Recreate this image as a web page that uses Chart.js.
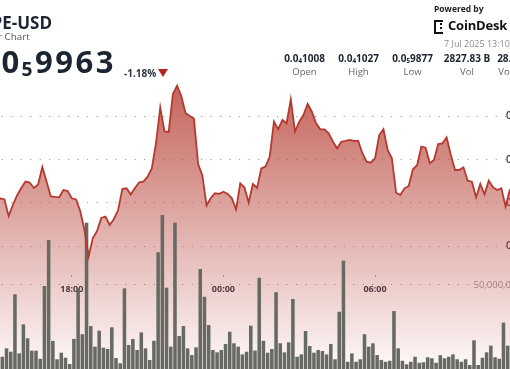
<!DOCTYPE html>
<html lang="en">
<head>
<meta charset="utf-8">
<title>PEPE-USD 24 Hour Chart</title>
<script src="https://cdn.jsdelivr.net/npm/chart.js@4.4.1/dist/chart.umd.min.js"></script>
<style>
  html, body { margin: 0; padding: 0; background: #fff; }
  body { position: relative; width: 510px; height: 369px; overflow: hidden; font-family: 'Open Sans', sans-serif; color: #1b2430; }
  #chart-wrap { position: absolute; left: -4px; top: 0; width: 518px; height: 369px; }
  .t { position: absolute; white-space: nowrap; line-height: 1; }
  .sub { font-size: 0.62em; vertical-align: -0.18em; }
  #pair { right: 458px; top: 14px; font-size: 17px; font-weight: 700; }
  #subtitle { right: 480.3px; top: 31.6px; font-size: 9.8px; color: #555; }
  #last { right: 394px; top: 46px; font-size: 31px; font-weight: 700; letter-spacing: 2.5px; }
  #change { left: 124px; top: 67.5px; font-size: 10px; font-weight: 700; color: #2d3340; }
  #arrow { position: absolute; left: 158px; top: 69px; width: 0; height: 0; border-left: 5px solid transparent; border-right: 5px solid transparent; border-top: 8px solid #b3261e; }
  #powered { left: 434px; top: 5px; font-size: 8.5px; font-weight: 700; color: #222; }
  #logo-mark { position: absolute; left: 434px; top: 20px; width: 7px; height: 10px; border: 2.5px solid #111; border-right: none; }
  #logo-mark i { position: absolute; left: 4px; width: 2px; height: 2px; background: #111; }
  #brand { left: 448px; top: 18.5px; font-size: 13px; font-weight: 700; color: #111; letter-spacing: -0.2px; }
  #stamp { left: 444px; top: 38.5px; font-size: 9px; color: #8a8a8a; }
  .sv { position: absolute; width: 60px; text-align: center; line-height: 1; top: 53.3px; font-size: 10px; font-weight: 700; color: #1b2430; white-space: nowrap; }
  .sl { position: absolute; width: 60px; text-align: center; line-height: 1; top: 66.6px; font-size: 9.5px; color: #666; white-space: nowrap; }
</style>
</head>
<body>
<div id="chart-wrap"><canvas id="chart"></canvas></div>

<div class="t" id="pair">PEPE-USD</div>
<div class="t" id="subtitle">24 Hour Chart</div>
<div class="t" id="last">0.0<span class="sub">5</span>9963</div>
<div class="t" id="change">-1.18%</div>
<div id="arrow"></div>

<div class="t" id="powered">Powered by</div>
<div id="logo-mark"><i style="top:1px"></i><i style="top:5px"></i></div>
<div class="t" id="brand">CoinDesk</div>
<div class="t" id="stamp">7 Jul 2025 13:10</div>

<div class="sv" style="left:274.5px">0.0<span class="sub">4</span>1008</div>
<div class="sl" style="left:274.5px">Open</div>
<div class="sv" style="left:328.5px">0.0<span class="sub">4</span>1027</div>
<div class="sl" style="left:328.5px">High</div>
<div class="sv" style="left:382.5px">0.0<span class="sub">5</span>9877</div>
<div class="sl" style="left:382.5px">Low</div>
<div class="sv" style="left:437px">2827.83 B</div>
<div class="sl" style="left:437px">Vol</div>
<div class="sv" style="left:486px">28.28 M</div>
<div class="sl" style="left:486px">Vol USD</div>

<script>
// volume per 10-minute slot, in millions of PEPE (slot 0 starts 15:00)
const volumeM = [
  23.2, 7.3, 12.3, 10.3, 44.5, 9.3, 26.6, 18.3, 10.9, 10.9,
  6.1, 49.4, 76.8, 16.7, 5.8, 9.7, 6.7, 3.0, 17.9, 48.0,
  20.7, 87.1, 25.6, 13.3, 22.8, 12.7, 11.9, 24.8, 6.5, 3.4,
  48.0, 14.3, 17.9, 11.3, 21.8, 12.3, 5.4, 16.8, 69.5, 91.7,
  48.4, 13.3, 87.1, 19.6, 25.6, 12.3, 8.3, 12.9, 59.5, 43.0,
  26.2, 11.3, 9.9, 11.3, 14.9, 22.2, 15.3, 13.3, 8.7, 10.3,
  25.8, 11.0, 54.3, 16.8, 9.7, 11.9, 45.7, 15.3, 9.9, 15.9,
  41.7, 7.3, 8.7, 22.6, 13.7, 9.7, 11.3, 10.7, 8.7, 14.9,
  5.8, 34.1, 64.5, 4.3, 9.3, 4.3, 5.8, 20.7, 13.3, 15.3,
  8.3, 5.4, 4.3, 4.9, 34.5, 12.3, 4.9, 2.8, 4.3, 7.3,
  3.7, 4.0, 7.0, 6.4, 3.7, 8.2, 6.4, 7.3, 8.7, 5.8,
  4.3, 5.8, 2.4, 17.1, 2.4, 6.7, 9.9, 13.9, 7.0, 6.1,
  27.6, 13.9, 10.0
];

// price at each slot boundary, in units of 0.00001 USD
const priceE5 = [
  1.00115, 1.00104, 1.00081, 0.99700, 0.99954, 1.00173, 1.00346, 1.00496, 1.00473, 1.00346,
  1.00427, 1.00831, 1.00496, 1.00150, 1.00139, 1.00132, 1.00300, 1.00277, 1.00109, 1.00081,
  0.99815, 0.99377, 0.98770, 0.99192, 0.99353, 0.99654, 0.99688, 0.99492, 0.99631, 0.99838,
  1.00323, 1.00339, 1.00196, 1.00346, 1.00478, 1.00492, 1.00607, 1.00797, 1.01385, 1.02205,
  1.01651, 1.01639, 1.02517, 1.02710, 1.02471, 1.02078, 1.02009, 1.01951, 1.00901, 1.00635,
  0.99942, 1.00115, 1.00224, 1.00212, 1.00261, 1.00208, 1.00109, 0.99850, 1.00455, 1.00358,
  1.00012, 1.00439, 1.00346, 1.00797, 1.00843, 1.01074, 1.01877, 1.01702, 1.01916, 1.01840,
  1.02394, 1.01646, 1.01877, 1.02032, 1.02286, 1.02108, 1.01840, 1.01702, 1.01702, 1.01609,
  1.01415, 1.01263, 1.01415, 1.01432, 1.01455, 1.01432, 1.01432, 1.01148, 1.00954, 1.00931,
  1.01032, 1.01570, 1.01702, 1.01224, 1.01032, 1.00238, 1.00185, 1.00339, 1.00393, 1.00778,
  1.00877, 1.01300, 1.01277, 1.00917, 1.00993, 1.01362, 1.01378, 1.01517, 1.01108, 1.00762,
  1.00762, 1.00824, 1.00515, 1.00492, 1.00132, 1.00439, 1.00201, 1.00515, 1.00363, 1.00300,
  1.00339, 0.99915, 1.00300, 1.00346
];

const timeTicks = ['18:00', '00:00', '06:00'];
const priceTickValues = [0.0000099, 0.00001, 0.0000101, 0.0000102];
const priceTickLabels = ['0.0₅9900', '0.0₄1000', '0.0₄1010', '0.0₄1020'];
const volumeTickValues = [50000000];

function slotLabels(startMin, count) {
  const out = [];
  for (let k = 0; k < count; k++) {
    const m = (startMin + k * 10) % 1440;
    out.push(String(Math.floor(m / 60)).padStart(2, '0') + ':' + String(m % 60).padStart(2, '0'));
  }
  return out;
}

const barTimes = slotLabels(15 * 60, volumeM.length);
const lineTimes = slotLabels(15 * 60, priceE5.length);
const prices = priceE5.map((v) => v * 1e-5);
const volumes = volumeM.map((v) => v * 1e6);
const volumeTickLabels = volumeTickValues.map((v) => v.toLocaleString('en-US'));

// axes overlay the plot, so they take no room in the layout
function flat(scale) {
  if (scale.isHorizontal()) scale.height = 0;
  else scale.width = 0;
  scale.paddingLeft = scale.paddingRight = scale.paddingTop = scale.paddingBottom = 0;
}

const measure = document.createElement('canvas').getContext('2d');
function widest(font, labels) {
  measure.font = font;
  return Math.max(...labels.map((s) => measure.measureText(s).width));
}

// mirrored labels are right-aligned on the plot's right edge; shift them so
// their left side sits 8px (price) and 40.5px (volume) inside that edge
const pricePad = widest('600 10px Open Sans', priceTickLabels) - 8;
const volPad = widest('9.5px Open Sans', volumeTickLabels) - 40.5;

function areaFill(c) {
  const { ctx, chartArea } = c.chart;
  if (!chartArea) return 'rgba(185,75,65,0.4)';
  const g = ctx.createLinearGradient(0, 80, 0, chartArea.bottom);
  g.addColorStop(0, 'rgba(185,70,60,0.85)');
  g.addColorStop(1, 'rgba(185,70,60,0.03)');
  return g;
}

const dotted = { display: false, dash: [1, 8.5], dashOffset: 3.8 };

new Chart(document.getElementById('chart'), {
  data: {
    datasets: [
      {
        type: 'line',
        data: prices,
        xAxisID: 'xl',
        yAxisID: 'y',
        order: 0,
        borderColor: '#b5392d',
        borderWidth: 1.8,
        pointRadius: 0,
        tension: 0,
        fill: 'start',
        backgroundColor: areaFill,
      },
      {
        type: 'bar',
        data: volumes,
        xAxisID: 'x',
        yAxisID: 'vol',
        order: 1,
        grouped: false,
        backgroundColor: '#676963',
        borderWidth: 0,
        barPercentage: 0.84,
        categoryPercentage: 1,
      },
    ],
  },
  options: {
    responsive: true,
    maintainAspectRatio: false,
    animation: false,
    events: [],
    layout: { padding: 0 },
    plugins: {
      legend: { display: false },
      tooltip: { enabled: false },
      filler: { drawTime: 'beforeDatasetsDraw' },
    },
    scales: {
      x: { type: 'category', labels: barTimes, offset: true, display: false },
      xl: {
        type: 'category',
        axis: 'x',
        labels: lineTimes,
        offset: false,
        position: { vol: 55.95e6 },
        afterFit: flat,
        afterBuildTicks: (s) => { s.ticks = timeTicks.map((t) => ({ value: lineTimes.indexOf(t) })); },
        grid: { display: true, drawOnChartArea: false, drawTicks: true, tickLength: 1.5, tickColor: '#8a8a8a', tickWidth: 1 },
        border: { display: false },
        ticks: { autoSkip: false, maxRotation: 0, padding: 7.5, color: '#2c3440', font: { family: 'Open Sans', size: 9, weight: 'bold' } },
      },
      y: {
        type: 'linear',
        position: 'right',
        min: 0.0000096167,
        max: 0.0000104687,
        afterFit: flat,
        afterBuildTicks: (s) => { s.ticks = priceTickValues.map((v) => ({ value: v })); },
        grid: { color: 'rgba(110,110,110,0.8)', drawTicks: false },
        border: dotted,
        ticks: {
          mirror: true,
          padding: pricePad,
          color: '#333a44',
          font: { family: 'Open Sans', size: 10, weight: '600' },
          callback: (v, i) => priceTickLabels[i],
        },
      },
      vol: {
        type: 'linear',
        axis: 'y',
        position: 'right',
        min: 0,
        max: 219.64e6,
        afterFit: flat,
        afterBuildTicks: (s) => { s.ticks = volumeTickValues.map((v) => ({ value: v })); },
        grid: { color: 'rgba(110,110,110,0.8)', drawTicks: false },
        border: dotted,
        ticks: {
          mirror: true,
          padding: volPad,
          color: '#999',
          font: { family: 'Open Sans', size: 9.5 },
          callback: (v, i) => volumeTickLabels[i],
        },
      },
    },
  },
});
</script>
</body>
</html>
